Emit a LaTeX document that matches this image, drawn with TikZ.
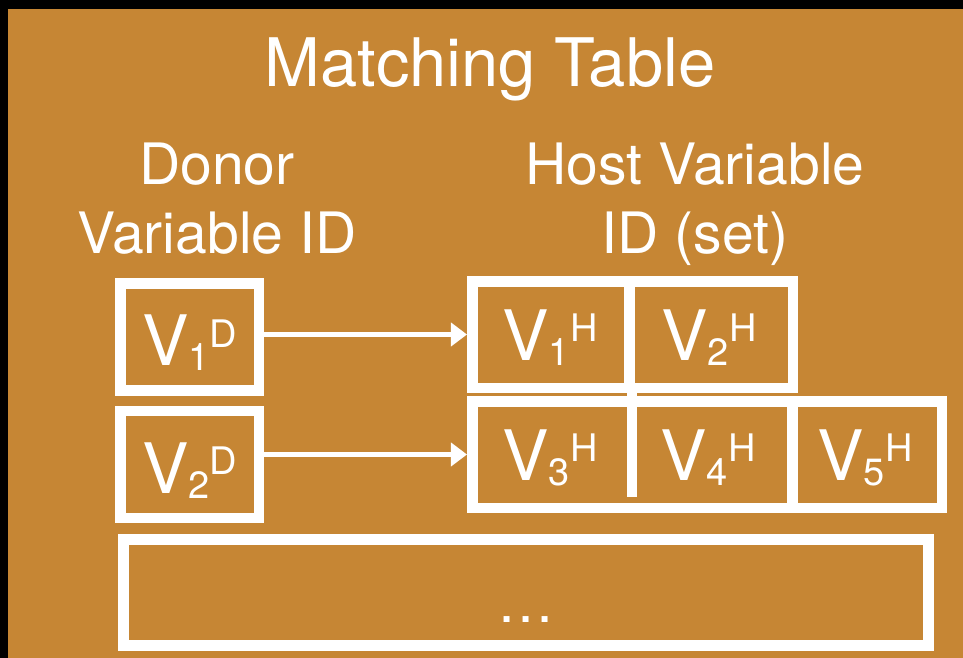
\documentclass[tikz,border=0pt]{standalone}
\usepackage{fontspec}
\setmainfont{TeX Gyre Heros}
\usepackage{tikz}
\usetikzlibrary{arrows.meta, positioning}
\definecolor{slidebg}{RGB}{198,134,52}
\newlength{\px}
\setlength{\px}{0.025cm}
\newcommand{\vname}[2]{V\raisebox{-5\px}{\fontsize{27pt}{27pt}\selectfont #1}\raisebox{18.5\px}{\fontsize{27pt}{27pt}\selectfont #2}}
\tikzstyle{heading} = [text=white, align=center, font=\fontsize{40.6pt}{49pt}\selectfont]
\tikzstyle{donor}   = [rectangle, draw=white, line width=10.5\px, minimum width=138.5\px, minimum height=107\px, inner sep=0pt, text=white, text height=57\px, text depth=0pt, font=\fontsize{49.5pt}{50pt}\selectfont]
\tikzstyle{hostrow} = [rectangle, draw=white, line width=10.5\px, minimum height=106.5\px, inner sep=0pt]
\tikzstyle{cell}    = [inner sep=0pt, text=white, text height=51\px, text depth=0pt, font=\fontsize{49.5pt}{50pt}\selectfont]
\tikzstyle{divider} = [draw=white, line width=10.5\px]
\tikzstyle{arrow}   = [draw=white, line width=0.125cm, -{Triangle[length=0.4cm, width=0.575cm]}]

\begin{document}
\begin{tikzpicture}[x=0.025cm, y=-0.025cm]

    % slide background
    \useasboundingbox (0,0) rectangle (963,658);
    \fill [black] (0,0) rectangle (963,658);
    \fill [slidebg] (8,9) rectangle (963,658);

    % title
    \node (title) [heading, anchor=base, font=\fontsize{47.6pt}{48pt}\selectfont] at (490,86) {Matching Table};

    \node (donorhead) [heading, anchor=base] at (217,253) {Donor\\Variable ID};
    \node (hosthead)  [heading, anchor=base] at (695,253) {Host Variable\\ID (set)};

    \node (d1) [donor] at (189.5,337)   {\vname{1}{D}};
    \node (d2) [donor] at (189.5,464.5) {\vname{2}{D}};

    \node (hrow1) [hostrow, minimum width=320.5\px] at (632.5,334.5) {};
    \node (hrow2) [hostrow, minimum width=469.5\px] at (707,454.5)   {};

    \node (h1) [cell] at (550,334.5) {\vname{1}{H}};
    \node (h2) [cell] at (709,334.5) {\vname{2}{H}};
    \node (h3) [cell] at (550,454.5) {\vname{3}{H}};
    \node (h4) [cell] at (708,454.5) {\vname{4}{H}};
    \node (h5) [cell] at (865,454.5) {\vname{5}{H}};

    \draw [divider] (629.5,281.25) -- (629.5,387.75);
    \draw [divider] (632,387.75) -- (632,497);
    \draw [divider] (792.5,401.25) -- (792.5,507.75);

    \draw [arrow] (d1.east |- hrow1) -- (hrow1.west);
    \draw [arrow] (d2.east |- hrow2) -- (hrow2.west);

    % further rows
    \node (more) [hostrow, line width=11\px, minimum width=805\px, minimum height=106\px, text=white, text height=59\px, text depth=0pt, font=\fontsize{40.6pt}{41pt}\selectfont] at (526,592.5) {…};

\end{tikzpicture}
\end{document}
